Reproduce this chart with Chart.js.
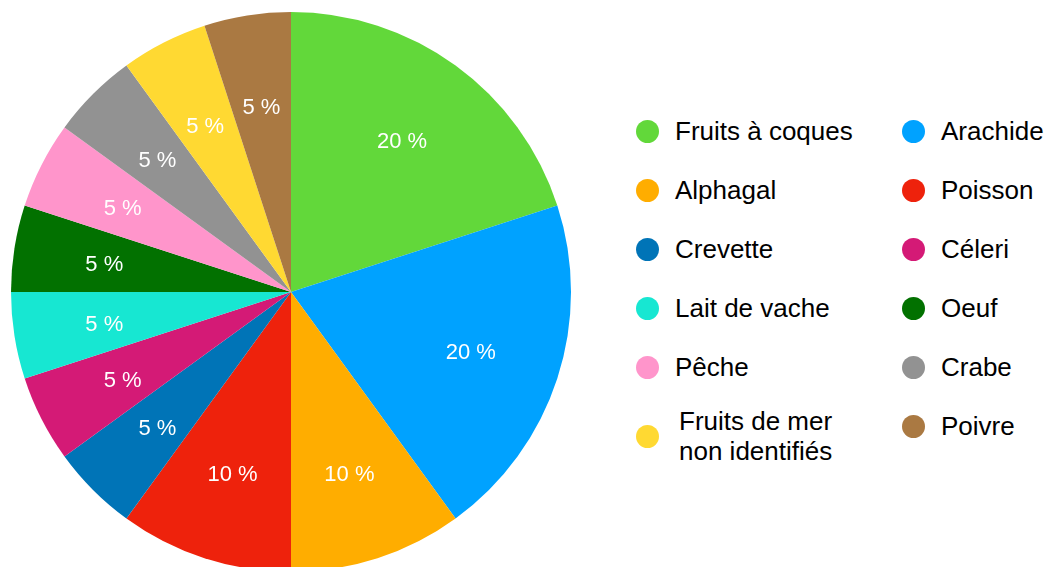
<!DOCTYPE html>
<html>
<head>
<meta charset="utf-8">
<script src="https://cdn.jsdelivr.net/npm/chart.js@4/dist/chart.umd.min.js"></script>
<style>
  html, body { margin: 0; padding: 0; background: #fff; width: 1048px; height: 567px; overflow: hidden; }
  #wrap { position: absolute; left: 11px; top: 12px; width: 560px; height: 560px; }
  #legend { position: absolute; left: 636px; top: 101px; width: 420px; font-family: Arial, "Liberation Sans", sans-serif; font-size: 26px; color: #000; }
  .item { position: absolute; height: 60px; display: flex; align-items: center; }
  .dot { width: 23px; height: 23px; border-radius: 50%; margin-right: 16px; flex: none; }
  .lbl { line-height: 30px; }
</style>
</head>
<body>
<div id="wrap"><canvas id="pie" width="560" height="560"></canvas></div>
<div id="legend"></div>
<script>
const labels = ["Fruits à coques", "Arachide", "Alphagal", "Poisson", "Crevette", "Céleri",
    "Lait de vache", "Oeuf", "Pêche", "Crabe", "Fruits de mer\nnon identifiés", "Poivre"];
const values = [20, 20, 10, 10, 5, 5, 5, 5, 5, 5, 5, 5];
const colors = ["#62d83a", "#00a2ff", "#ffad00", "#ee220c", "#0074b7", "#d41a76",
    "#17e7d2", "#027100", "#ff95cb", "#929292", "#ffd932", "#aa7942"];

// étiquettes blanches dans les parts
const sliceLabels = {
    id: "sliceLabels",
    afterDatasetsDraw(chart) {
        const ctx = chart.ctx;
        const meta = chart.getDatasetMeta(0);
        ctx.save();
        ctx.fillStyle = "#fff";
        ctx.font = "22px Arial, 'Liberation Sans', sans-serif";
        ctx.textAlign = "center";
        ctx.textBaseline = "middle";
        meta.data.forEach((arc, i) => {
            const p = arc.getProps(["x", "y", "startAngle", "endAngle", "outerRadius"], true);
            const a = (p.startAngle + p.endAngle) / 2;
            const r = p.outerRadius * 0.675;
            ctx.fillText(values[i] + " %", p.x + Math.cos(a) * r, p.y + Math.sin(a) * r + 3);
        });
        ctx.restore();
    }
};

new Chart(document.getElementById("pie"), {
    type: "pie",
    data: {
        labels: labels,
        datasets: [{ data: values, backgroundColor: colors, borderWidth: 0 }]
    },
    options: {
        responsive: false,
        animation: false,
        layout: { padding: 0 },
        plugins: { legend: { display: false }, tooltip: { enabled: false } }
    },
    plugins: [sliceLabels]
});

// légende en deux colonnes
const legend = document.getElementById("legend");
labels.forEach((name, i) => {
    const item = document.createElement("div");
    item.className = "item";
    const row = Math.floor(i / 2);
    item.style.left = (i % 2 ? 266 : 0) + "px";
    item.style.top = (row * 59 + (row == 5 && i % 2 == 0 ? 10 : 0)) + "px";
    const dot = document.createElement("span");
    dot.className = "dot";
    dot.style.background = colors[i];
    const txt = document.createElement("span");
    txt.className = "lbl";
    txt.innerHTML = name.replace("\n", "<br>");
    if (name.indexOf("\n") >= 0) txt.style.paddingLeft = "4px";
    item.appendChild(dot);
    item.appendChild(txt);
    legend.appendChild(item);
});
</script>
</body>
</html>
